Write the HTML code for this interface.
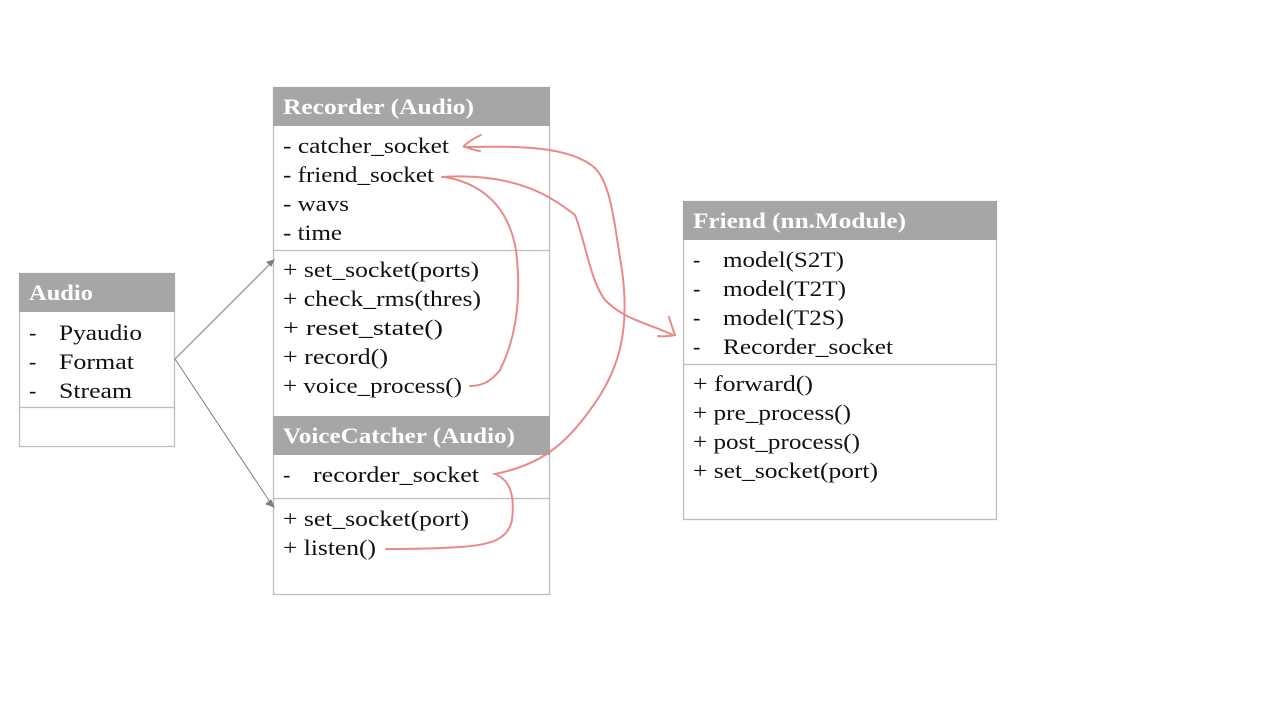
<!DOCTYPE html>
<html><head><meta charset="utf-8"><style>
html,body{margin:0;padding:0;background:#fff;}
svg{display:block;}
text{font-family:"Liberation Serif",serif;font-size:22px;fill:#111;}
.h{fill:#fff;font-weight:bold;}
</style></head><body>
<svg width="1280" height="720" viewBox="0 0 1280 720">
<g stroke="#bdbdbd" stroke-width="1.3" fill="#fff">
<rect x="19.5" y="273.5" width="155" height="173"/>
<rect x="273.5" y="87.5" width="276" height="507"/>
<rect x="683.5" y="201.5" width="313" height="318"/>
</g>
<g fill="#a6a6a6">
<rect x="19" y="273" width="156" height="39"/>
<rect x="273" y="87" width="277" height="39"/>
<rect x="273" y="416" width="277" height="39"/>
<rect x="683" y="201" width="314" height="39"/>
</g>
<g stroke="#bdbdbd" stroke-width="1.3">
<line x1="19" y1="407.5" x2="175" y2="407.5"/>
<line x1="273" y1="250.5" x2="550" y2="250.5"/>
<line x1="273" y1="498.5" x2="550" y2="498.5"/>
<line x1="683" y1="364.5" x2="997" y2="364.5"/>
</g>
<g stroke="#7f7f7f" stroke-width="1" fill="#7f7f7f">
<line x1="175" y1="359" x2="272" y2="262"/>
<line x1="175" y1="359" x2="272" y2="505"/>
<path d="M274 260 l-7 2 l4 4z"/><path d="M274 507 l-3 -7 l-5 4z"/>
</g>
<g>
<text class="h" x="29" y="300" textLength="64" lengthAdjust="spacingAndGlyphs">Audio</text>
<text x="29" y="340">-</text><text x="59" y="340" textLength="83" lengthAdjust="spacingAndGlyphs">Pyaudio</text>
<text x="29" y="369">-</text><text x="59" y="369" textLength="75" lengthAdjust="spacingAndGlyphs">Format</text>
<text x="29" y="398">-</text><text x="59" y="398" textLength="73" lengthAdjust="spacingAndGlyphs">Stream</text>
<text class="h" x="283" y="114" textLength="191" lengthAdjust="spacingAndGlyphs">Recorder (Audio)</text>
<text x="283" y="153" textLength="166" lengthAdjust="spacingAndGlyphs">- catcher_socket</text>
<text x="283" y="182" textLength="151" lengthAdjust="spacingAndGlyphs">- friend_socket</text>
<text x="283" y="211" textLength="66" lengthAdjust="spacingAndGlyphs">- wavs</text>
<text x="283" y="240" textLength="59" lengthAdjust="spacingAndGlyphs">- time</text>
<text x="283" y="277" textLength="196" lengthAdjust="spacingAndGlyphs">+ set_socket(ports)</text>
<text x="283" y="306" textLength="198" lengthAdjust="spacingAndGlyphs">+ check_rms(thres)</text>
<text x="283" y="335" textLength="160" lengthAdjust="spacingAndGlyphs">+ reset_state()</text>
<text x="283" y="364" textLength="105" lengthAdjust="spacingAndGlyphs">+ record()</text>
<text x="283" y="393" textLength="179" lengthAdjust="spacingAndGlyphs">+ voice_process()</text>
<text class="h" x="283" y="443" textLength="232" lengthAdjust="spacingAndGlyphs">VoiceCatcher (Audio)</text>
<text x="283" y="482">-</text><text x="313" y="482" textLength="166" lengthAdjust="spacingAndGlyphs">recorder_socket</text>
<text x="283" y="526" textLength="186" lengthAdjust="spacingAndGlyphs">+ set_socket(port)</text>
<text x="283" y="555" textLength="93" lengthAdjust="spacingAndGlyphs">+ listen()</text>
<text class="h" x="693" y="228" textLength="213" lengthAdjust="spacingAndGlyphs">Friend (nn.Module)</text>
<text x="693" y="267">-</text><text x="723" y="267" textLength="121" lengthAdjust="spacingAndGlyphs">model(S2T)</text>
<text x="693" y="296">-</text><text x="723" y="296" textLength="123" lengthAdjust="spacingAndGlyphs">model(T2T)</text>
<text x="693" y="325">-</text><text x="723" y="325" textLength="121" lengthAdjust="spacingAndGlyphs">model(T2S)</text>
<text x="693" y="354">-</text><text x="723" y="354" textLength="170" lengthAdjust="spacingAndGlyphs">Recorder_socket</text>
<text x="693" y="391" textLength="120" lengthAdjust="spacingAndGlyphs">+ forward()</text>
<text x="693" y="420" textLength="158" lengthAdjust="spacingAndGlyphs">+ pre_process()</text>
<text x="693" y="449" textLength="167" lengthAdjust="spacingAndGlyphs">+ post_process()</text>
<text x="693" y="478" textLength="185" lengthAdjust="spacingAndGlyphs">+ set_socket(port)</text>
</g>
<g stroke="#e88a8a" stroke-width="2" fill="none" stroke-linecap="round">
<path d="M481 135 Q470 140 464 146 Q472 150 480 151"/>
<path d="M464 147 C520 146 570 146 595 168 C612 185 615 230 622 270 C630 330 620 370 590 410 C565 445 540 465 495 474 C510 480 515 495 512 520 C508 540 490 545 460 547 C430 549 400 549 386 549"/>
<path d="M442 177 C520 172 555 200 575 215 C585 240 590 280 605 300 C625 320 645 322 673 335"/>
<path d="M669 317 Q672 327 675 335 Q665 337 658 336"/>
<path d="M445 177 C490 185 510 215 516 250 C522 300 515 340 500 370 C490 383 480 386 470 386"/>
</g>
</svg>
</body></html>
